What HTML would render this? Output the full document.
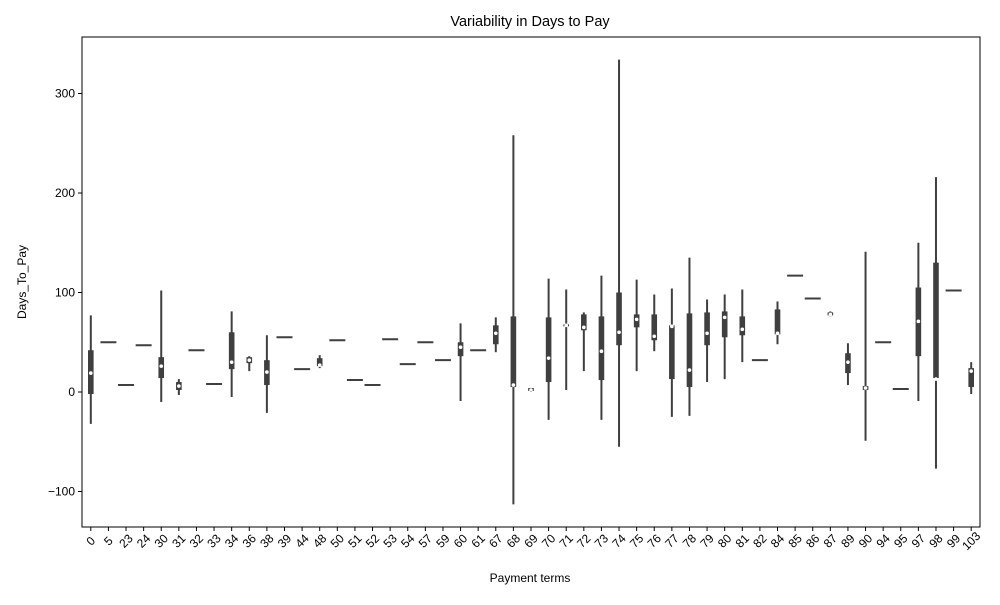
<!DOCTYPE html>
<html><head><meta charset="utf-8"><style>
body{margin:0;background:#fff;font-family:"Liberation Sans",sans-serif;}
svg text{font-family:"Liberation Sans",sans-serif;fill:#000;}
</style></head><body>
<svg id="chart" width="1000" height="600" xmlns="http://www.w3.org/2000/svg">
<rect width="1000" height="600" fill="#fff"/>
<text x="530" y="26" font-size="14.5" text-anchor="middle">Variability in Days to Pay</text>
<text x="530" y="582" font-size="12" text-anchor="middle">Payment terms</text>
<text transform="translate(26,282) rotate(-90)" font-size="12" text-anchor="middle">Days_To_Pay</text>
<g id="marks"></g>
<g id="axes"></g>
</svg>
<script>
const categories=["0","5","23","24","30","31","32","33","34","36","38","39","44","48","50","51","52","53","54","57","59","60","61","67","68","69","70","71","72","73","74","75","76","77","78","79","80","81","82","84","85","86","87","89","90","94","95","97","98","99","103"];
const whiskerMin=[-32,50,7,47,-10,-3,42,8,-5,21,-21,55,23,24,52,12,7,53,28,50,32,-9,42,40,-113,0,-28,2,21,-28,-55,21,41,-25,-24,10,13,30,32,48,117,94,76,7,-49,50,3,-9,-77,102,-2];
const q1=[-2,50,7,47,14,2,42,8,23,29,7,55,23,26,52,12,7,53,28,50,32,36,42,48,5,1,10,66,62,12,47,65,52,13,5,47,55,57,32,58,117,94,77,19,2,50,3,36,14,102,5];
const medians=[19,50,7,47,26,6,42,8,30,32,20,55,23,27,52,12,7,53,28,50,32,45,42,59,7,2,34,67,65,41,60,73,56,66,22,59,75,63,32,59,117,94,78,30,4,50,3,71,13,102,21];
const q3=[42,50,7,47,35,10,42,8,60,35,32,55,23,34,52,12,7,53,28,50,32,50,42,67,76,4,75,68,78,76,100,78,78,67,79,80,81,76,32,83,117,94,80,39,6,50,3,105,130,102,24];
const whiskerMax=[77,50,7,47,102,13,42,8,81,36,57,55,23,37,52,12,7,53,28,50,32,69,42,75,258,4,114,103,80,117,334,113,98,104,135,93,98,103,32,91,117,94,81,49,141,50,3,150,216,102,30];
const yTicks=[-100,0,100,200,300];
const L=82,R=980,T=37,B=527;
const bw=(R-L)/categories.length;
const xPos=i=>L+bw*(i+0.5);
const yPos=v=>392-v*0.995;
const NS="http://www.w3.org/2000/svg";
const marks=document.getElementById('marks'),axes=document.getElementById('axes');
function mk(tag,attrs,parent){const e=document.createElementNS(NS,tag);for(const k in attrs)e.setAttribute(k,attrs[k]);parent.appendChild(e);return e;}
const C="#3f3f3f";
categories.forEach((c,i)=>{
  const x=xPos(i);
  const g=mk('g',{},marks);
  
  
  if(whiskerMax[i]===whiskerMin[i]){
    const l=mk('line',{x1:x-8,x2:x+8,y1:yPos(medians[i]),y2:yPos(medians[i]),stroke:C,'stroke-width':2},g);
    
    
    return;
  }
  const w=mk('line',{x1:x,x2:x,y1:yPos(whiskerMax[i]),y2:yPos(whiskerMin[i]),stroke:C,'stroke-width':2},g);
  
  
  const b=mk('rect',{x:x-2.8,width:5.6,y:yPos(q3[i]),height:Math.max(2,yPos(q1[i])-yPos(q3[i])),fill:C},g);
  
  
  const m=mk('circle',{cx:x,cy:yPos(medians[i]),r:1.8,fill:'#fff'},g);
  
  
});
const frame=mk('rect',{x:L,y:T,width:R-L,height:B-T,fill:'none',stroke:'#000','stroke-width':1},axes);


yTicks.forEach(v=>{
  const y=yPos(v);
  const t=mk('line',{x1:L-4,x2:L,y1:y,y2:y,stroke:'#000'},axes);
  
  
  const tx=mk('text',{x:L-7,y:y+4,'font-size':12,'text-anchor':'end'},axes);
  tx.textContent=String(v).replace('-','\u2212');
  
  
});
categories.forEach((c,i)=>{
  const x=xPos(i);
  const t=mk('line',{x1:x,x2:x,y1:B,y2:B+4,stroke:'#000'},axes);
  
  
  const tx=mk('text',{transform:`translate(${x},${B+14}) rotate(-45)`,'font-size':12,'text-anchor':'middle',y:4},axes);
  tx.textContent=c;
  
  
});
</script>
</body></html>
